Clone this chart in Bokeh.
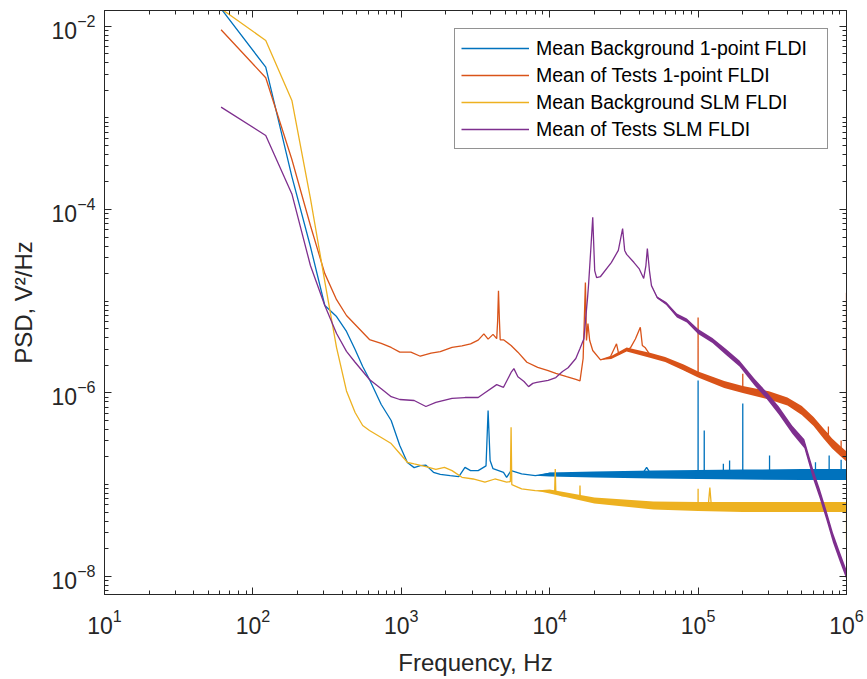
from bokeh.plotting import figure
from bokeh.models import LogAxis, FixedTicker, Range1d, Legend, LegendItem, CustomJSTickFormatter
from bokeh.embed import file_html
from bokeh.resources import INLINE

# ---------------- data ----------------
labels = ["Mean Background 1-point FLDI", "Mean of Tests 1-point FLDI",
          "Mean Background SLM FLDI", "Mean of Tests SLM FLDI"]
colors = ["#0072BD", "#D95319", "#EDB120", "#7E2F8E"]

bg1_f = [61.04, 122.07, 183.1, 244.1, 305.2, 366.2, 427.2, 488.3, 549.3, 610.4, 732.4, 854.5,
         976.6, 1098.6, 1220.7, 1342.8, 1464.8, 1647.9, 1831, 2136, 2441, 2686, 2930, 3296,
         3723, 3845, 3967, 4150, 4883, 5127, 5493, 6470, 8000, 10000, 20000, 42000, 45000, 48000,
         99939, 100000, 100061, 109939, 110000, 110061, 147939, 148000, 148061,
         162939, 163000, 163061, 199939, 200000, 200061, 302939, 303000, 303061,
         617939, 618000, 618061, 763939, 764000, 764061, 919939, 920000, 920061, 1000000]
bg1_v = [1.55e-2, 3.57e-3, 2.29e-4, 3.95e-5, 8.98e-6, 6.8e-6, 4.68e-6, 2.97e-6, 1.94e-6, 1.40e-6, 7.47e-7, 5.0e-7,
         2.67e-7, 1.74e-7, 1.53e-7, 1.61e-7, 1.63e-7, 1.36e-7, 1.29e-7, 1.25e-7, 1.22e-7, 1.54e-7, 1.42e-7, 1.42e-7,
         1.6e-7, 6.42e-7, 1.83e-7, 1.49e-7, 1.36e-7, 1.2e-7, 1.42e-7, 1.31e-7, 1.25e-7, 1.32e-7, 1.3e-7, 1.3e-7, 1.54e-7, 1.3e-7,
         1.28e-7, 1.365e-6, 1.28e-7, 1.28e-7, 3.88e-7, 1.28e-7, 1.28e-7, 1.69e-7, 1.28e-7,
         1.28e-7, 1.83e-7, 1.28e-7, 1.28e-7, 7.65e-7, 1.28e-7, 1.28e-7, 2.07e-7, 1.28e-7,
         1.28e-7, 1.75e-7, 1.28e-7, 1.28e-7, 2.07e-7, 1.28e-7, 1.28e-7, 1.87e-7, 1.28e-7, 1.25e-7]
# envelope of the noise band at high frequency
bg1_band_f = [8000, 10000, 20000, 50000, 100000, 200000, 500000, 1000000]
bg1_band_hi = [1.25e-7, 1.352e-7, 1.386e-7, 1.421e-7, 1.439e-7, 1.457e-7, 1.476e-7, 1.476e-7]
bg1_band_lo = [1.25e-7, 1.222e-7, 1.192e-7, 1.163e-7, 1.148e-7, 1.134e-7, 1.12e-7, 1.12e-7]

t1_f = [61.04, 122.07, 183.1, 244.1, 305.2, 366.2, 427.2, 488.3, 610.4, 732.4, 854.5, 976.6,
        1160, 1343, 1587, 1831, 2197, 2563, 2930, 3296, 3601, 3845, 4150, 4395, 4456, 4517, 4578, 4639,
        4883, 5493, 6104, 7020, 8301, 9766, 11000, 13000, 15000, 16000, 16800, 17100, 17400, 17700,
        18100, 18600, 19500, 22000, 25700, 28200, 29200, 35000, 37800, 40800, 42100, 44100, 47700,
        55700, 68400, 84400, 99939, 100000, 100061, 127000, 156000, 199939, 200000, 200061, 260000,
        356000, 510000, 630000, 754939, 755000, 755061, 775000, 909000, 919939, 920000, 920061,
        960000, 999939, 1000000]
t1_v = [9.14e-3, 2.74e-3, 3.51e-4, 6.69e-5, 2.0e-5, 1.04e-5, 6.98e-6, 5.57e-6, 3.82e-6, 3.47e-6, 3.13e-6, 2.78e-6,
        2.78e-6, 2.51e-6, 2.71e-6, 2.82e-6, 3.13e-6, 3.25e-6, 3.42e-6, 3.76e-6, 4.4e-6, 3.86e-6, 4.35e-6, 3.9e-6, 6.0e-6, 1.3e-5, 6.5e-6, 3.8e-6,
        3.79e-6, 3.29e-6, 2.78e-6, 2.16e-6, 1.9e-6, 1.75e-6, 1.63e-6, 1.5e-6, 1.4e-6, 1.35e-6, 2.37e-6, 6.16e-6, 1.6e-5, 3.73e-6,
        5.7e-6, 3.73e-6, 2.9e-6, 2.29e-6, 2.49e-6, 3.43e-6, 2.64e-6, 3.1e-6, 3.87e-6, 5.2e-6, 3.29e-6, 3.1e-6, 2.56e-6,
        2.45e-6, 2.08e-6, 1.74e-6, 1.58e-6, 6.64e-6, 1.55e-6, 1.37e-6, 1.2e-6, 1.1e-6, 1.62e-6, 1.1e-6, 9.8e-7,
        8.62e-7, 6.16e-7, 4.6e-7, 3.5e-7, 4.3e-7, 3.45e-7, 3.03e-7, 2.25e-7, 2.2e-7, 3.03e-7, 2.2e-7,
        2.07e-7, 1.95e-7, 1.24e-5]
t1_band_f = [22000, 26000, 33000, 48000, 60000, 80000, 100000, 150000, 200000,
             300000, 400000, 500000, 600000, 700000, 800000, 900000, 1000000]
t1_band_hi = [2.29e-6, 2.52e-6, 3.13e-6, 2.72e-6, 2.46e-6, 2.04e-6, 1.71e-6, 1.35e-6, 1.19e-6,
              1.04e-6, 8.91e-7, 7.2e-7, 5.46e-7, 4.09e-7, 3.18e-7, 2.67e-7, 2.3e-7]
t1_band_lo = [2.29e-6, 2.34e-6, 2.83e-6, 2.4e-6, 2.17e-6, 1.75e-6, 1.47e-6, 1.13e-6, 9.97e-7,
              8.47e-7, 7.29e-7, 5.74e-7, 4.36e-7, 3.18e-7, 2.47e-7, 2.08e-7, 1.79e-7]

bgs_f = [61.04, 122.07, 183.1, 244.1, 305.2, 366.2, 427.2, 488.3, 549.3, 610.4, 732.4, 854.5, 976.6,
         1098.6, 1220.7, 1464.8, 1709, 1953, 2197, 2563, 3052, 3662, 4272, 5127, 5432, 5493, 5554,
         6470, 8000, 10800, 10900, 11000, 12000, 15939, 16000, 16061, 20000, 30000, 50000,
         99939, 100000, 100061, 117000, 120000, 123000, 200000, 999939, 1000000]
bgs_v = [1.55e-2, 6.98e-3, 1.55e-3, 1.32e-4, 1.64e-5, 3.12e-6, 1.05e-6, 6.11e-7, 4.41e-7, 3.89e-7, 3.26e-7, 2.8e-7, 2.18e-7,
         1.75e-7, 1.68e-7, 1.57e-7, 1.46e-7, 1.54e-7, 1.42e-7, 1.2e-7, 1.15e-7, 1.06e-7, 1.15e-7, 1.06e-7, 1.08e-7, 4.22e-7, 1.0e-7,
         8.98e-8, 8.6e-8, 8.4e-8, 1.48e-7, 8.2e-8, 7.58e-8, 7.3e-8, 9.75e-8, 7.3e-8, 6.69e-8, 6.16e-8, 5.9e-8,
         5.8e-8, 9.0e-8, 5.8e-8, 5.8e-8, 9.3e-8, 5.7e-8, 5.66e-8, 5.66e-8, 2.5e-8]
bgs_band_f = [8000, 10000, 20000, 50000, 100000, 200000, 500000, 1000000]
bgs_band_hi = [8.6e-8, 8.82e-8, 7.21e-8, 6.52e-8, 6.44e-8, 6.44e-8, 6.44e-8, 6.44e-8]
bgs_band_lo = [8.6e-8, 7.98e-8, 6.21e-8, 5.34e-8, 5.14e-8, 5.01e-8, 5.01e-8, 5.01e-8]

ts_f = [61.04, 122.07, 183.1, 244.1, 305.2, 366.2, 427.2, 488.3, 610.4, 732.4, 854.5, 976.6,
        1221, 1465, 1709, 2197, 2686, 3296, 3601, 4395, 4883, 5493, 5737, 6104, 6714, 7202, 7690,
        8179, 9766, 11000, 12200, 13300, 15000, 16000, 17000, 18000, 18300, 18900, 19500, 20100,
        20700, 22000, 26000, 29000, 31000, 32000, 33000, 37000, 40000, 43000, 44500, 45500, 47000,
        48500, 53000, 61000, 72000, 84000, 100000, 125000, 155000, 190000, 240000, 290000, 350000,
        430000, 520000, 600000, 660000, 730000, 810000, 900000, 1000000]
ts_v = [1.31e-3, 6.43e-4, 1.48e-4, 2.45e-5, 8.98e-6, 4.44e-6, 2.84e-6, 2.16e-6, 1.4e-6, 1.11e-6, 9.1e-7, 8.47e-7,
        8.26e-7, 7.1e-7, 7.86e-7, 8.69e-7, 8.9e-7, 8.9e-7, 9.85e-7, 1.23e-6, 1.15e-6, 1.67e-6, 1.84e-6, 1.5e-6, 1.33e-6, 1.17e-6, 1.27e-6,
        1.3e-6, 1.37e-6, 1.47e-6, 1.71e-6, 1.88e-6, 2.37e-6, 3.05e-6, 3.9e-6, 1.1e-5, 1.56e-5, 3.58e-5, 8.24e-5, 2.16e-5,
        1.81e-5, 1.86e-5, 2.64e-5, 3.58e-5, 6.21e-5, 3.58e-5, 3.24e-5, 2.64e-5, 2.27e-5, 1.77e-5, 2.45e-5, 3.76e-5, 2.16e-5,
        1.48e-5, 1.10e-5, 9.44e-6, 6.98e-6, 6.16e-6, 4.67e-6, 3.73e-6, 2.77e-6, 2.09e-6, 1.31e-6, 9.37e-7, 6.43e-7,
        3.99e-7, 2.79e-7, 1.25e-7, 7.98e-8, 4.71e-8, 2.64e-8, 1.64e-8, 1.04e-8]
ts_band_f = [48500, 53000, 61000, 72000, 84000, 100000, 125000, 155000, 190000, 240000, 290000, 350000,
             430000, 520000, 600000, 660000, 730000, 810000, 900000, 1000000]
ts_band_hi = [1.48e-5, 1.125e-5, 9.8e-6, 7.34e-6, 6.47e-6, 4.98e-6, 3.97e-6, 3.0e-6, 2.25e-6, 1.43e-6, 1.02e-6, 7.11e-7,
              4.41e-7, 3.12e-7, 1.42e-7, 9.05e-8, 5.34e-8, 3.0e-8, 1.86e-8, 1.18e-8]
ts_band_lo = [1.48e-5, 1.07e-5, 9.09e-6, 6.64e-6, 5.86e-6, 4.39e-6, 3.5e-6, 2.58e-6, 1.94e-6, 1.2e-6, 8.58e-7, 5.81e-7,
              3.61e-7, 2.49e-7, 1.11e-7, 7.04e-8, 4.15e-8, 2.33e-8, 1.45e-8, 9.2e-9]

x_major = [1e1, 1e2, 1e3, 1e4, 1e5, 1e6]
y_major = [1e-8, 1e-6, 1e-4, 1e-2]

# ---------------- figure ----------------
FONT = "Liberation Sans"
TXT = "#262626"

p = figure(x_axis_type="log", y_axis_type="log",
           x_range=Range1d(10, 1e6), y_range=Range1d(6.32e-9, 1.483e-2),
           frame_width=742, frame_height=584,
           min_border_left=104, min_border_right=21, min_border_top=10, min_border_bottom=85,
           output_backend="svg", toolbar_location=None)
p.xgrid.visible = False
p.ygrid.visible = False
p.outline_line_color = TXT
p.outline_line_width = 1
p.background_fill_color = "white"
p.border_fill_color = "white"

x_minor = [k * 10.0 ** n for n in range(1, 6) for k in range(2, 10)]
y_minor = [k * 10.0 ** n for n in range(-9, -1) for k in range(1, 10)]
xt = FixedTicker(ticks=x_major, minor_ticks=x_minor)
yt = FixedTicker(ticks=y_major, minor_ticks=y_minor)


def style_axis(ax, ticker, show_labels):
    ax.ticker = ticker
    ax.axis_line_color = TXT
    ax.axis_line_width = 1
    ax.major_tick_line_color = TXT
    ax.minor_tick_line_color = TXT
    ax.major_tick_in = 7
    ax.major_tick_out = 0
    ax.minor_tick_in = 4
    ax.minor_tick_out = 0
    ax.major_label_text_font = FONT
    ax.major_label_text_color = TXT
    if show_labels:
        ax.major_label_text_font_size = "23px"
    else:
        ax.formatter = CustomJSTickFormatter(code="return ''")
        ax.major_label_text_font_size = "1px"
        ax.major_label_standoff = 0


style_axis(p.xaxis[0], xt, True)
style_axis(p.yaxis[0], yt, True)
p.xaxis[0].major_label_standoff = 14
p.yaxis[0].major_label_standoff = 9

p.xaxis[0].axis_label = "Frequency, Hz"
p.yaxis[0].axis_label = "PSD, V²/Hz"
for ax in (p.xaxis[0], p.yaxis[0]):
    ax.axis_label_text_font = FONT
    ax.axis_label_text_font_size = "24px"
    ax.axis_label_text_font_style = "normal"
    ax.axis_label_text_color = TXT
    ax.axis_label_standoff = 12

top_ax = LogAxis()
style_axis(top_ax, xt, False)
p.add_layout(top_ax, "above")
right_ax = LogAxis()
style_axis(right_ax, yt, False)
p.add_layout(right_ax, "right")

series = [
    (bg1_f, bg1_v, bg1_band_f, bg1_band_lo, bg1_band_hi),
    (t1_f, t1_v, t1_band_f, t1_band_lo, t1_band_hi),
    (bgs_f, bgs_v, bgs_band_f, bgs_band_lo, bgs_band_hi),
    (ts_f, ts_v, ts_band_f, ts_band_lo, ts_band_hi),
]
items = []
for (f, v, bf, blo, bhi), lab, col in zip(series, labels, colors):
    p.varea(x=bf, y1=blo, y2=bhi, fill_color=col, fill_alpha=1.0)
    r = p.line(f, v, line_color=col, line_width=1.3)
    items.append(LegendItem(label=lab, renderers=[r]))

legend = Legend(items=items, location="top_right", margin=18,
                label_text_font=FONT, label_text_font_size="19.5px", label_text_color="black",
                glyph_width=68, glyph_height=26, spacing=1, padding=6, label_standoff=7,
                label_width=285, border_line_color=TXT, border_line_width=1,
                background_fill_color="white", background_fill_alpha=1.0)
p.add_layout(legend)

open("out.html", "w").write(file_html(p, INLINE))
